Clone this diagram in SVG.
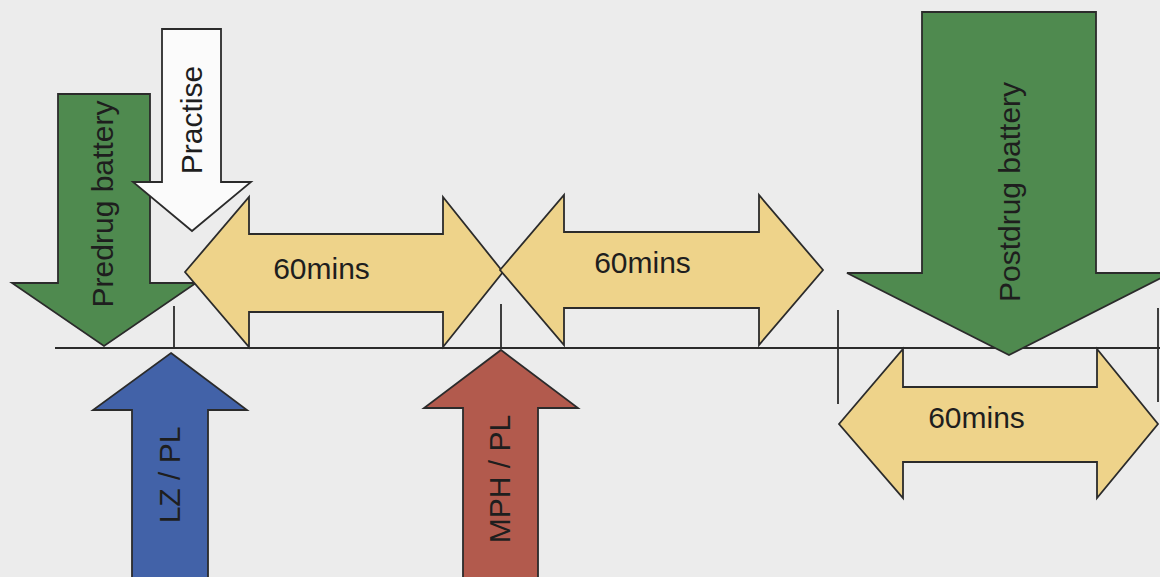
<svg xmlns="http://www.w3.org/2000/svg" width="1160" height="577" viewBox="0 0 1160 577">
<style>
.arr{stroke:#2b2b2b;stroke-width:1.8;stroke-linejoin:miter}
.green{fill:#4f8a4f}
.white{fill:#fbfbfb}
.yellow{fill:#eed38a}
.blue{fill:#4262a8}
.red{fill:#b25a4d}
.lbl{font-family:"Liberation Sans",Arial,sans-serif;font-size:30px;fill:#1e1e1e;text-anchor:middle}
.ln{stroke:#2b2b2b;stroke-width:1.8;fill:none}
</style>
<rect width="1160" height="577" fill="#ececec"/>
<g id="connectors">
<line class="ln" x1="55" y1="348" x2="1160" y2="348"/>
<line class="ln" x1="174" y1="306" x2="174" y2="348"/>
<line class="ln" x1="501" y1="304" x2="501" y2="348"/>
<line class="ln" x1="838" y1="310" x2="838" y2="404"/>
<line class="ln" x1="1158" y1="308" x2="1158" y2="402"/>
</g>
<g id="predrug">
<polygon class="arr green" points="58,94 150,94 150,283 196,283 104,346 12,283 58,283"/>
<text class="lbl" transform="translate(113,204) rotate(-90)">Predrug battery</text>
</g>
<g id="practise">
<polygon class="arr white" points="162,29 221,29 221,182 251,182 192,231 133,182 162,182"/>
<text class="lbl" transform="translate(202,120) rotate(-90)">Practise</text>
</g>
<g id="interval1">
<polygon class="arr yellow" points="185,272 249,197 249,234 443,234 443,197 503,272 443,347 443,312 249,312 249,347"/>
<text class="lbl" x="321.5" y="279">60mins</text>
</g>
<g id="interval2">
<polygon class="arr yellow" points="500,270 564,195 564,232 759,232 759,195 823,270 759,345 759,308 564,308 564,345"/>
<text class="lbl" x="642.5" y="273">60mins</text>
</g>
<g id="postdrug">
<polygon class="arr green" points="922,12 1096,12 1096,273 1171,273 1009,355 847,273 922,273"/>
<text class="lbl" transform="translate(1020,192) rotate(-90)">Postdrug battery</text>
</g>
<g id="interval3">
<polygon class="arr yellow" points="839,424 903,349 903,387 1097,387 1097,349 1158,424 1097,498 1097,462 903,462 903,498"/>
<text class="lbl" x="976.5" y="428">60mins</text>
</g>
<g id="lzpl">
<polygon class="arr blue" points="171,353 247,410 208,410 208,580 132,580 132,410 93,410"/>
<text class="lbl" transform="translate(180,475) rotate(-90)">LZ / PL</text>
</g>
<g id="mphpl">
<polygon class="arr red" points="501,350 578,408 538,408 538,580 463,580 463,408 424,408"/>
<text class="lbl" transform="translate(510,479) rotate(-90)">MPH / PL</text>
</g>
</svg>
